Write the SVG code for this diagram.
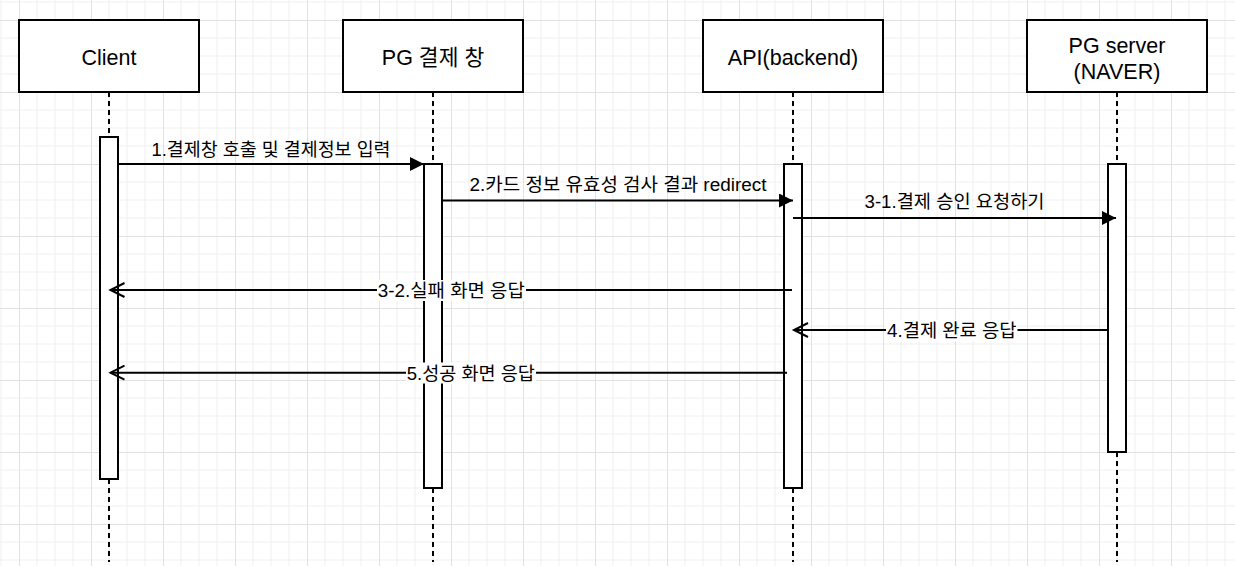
<svg xmlns="http://www.w3.org/2000/svg" width="1235" height="566" viewBox="0 0 1235 566">
<defs>
<pattern id="grid" patternUnits="userSpaceOnUse" x="19" y="20" width="72" height="72">
<path d="M18,0V72M36,0V72M54,0V72M0,18H72M0,36H72M0,54H72" stroke="#efefef" stroke-width="1" fill="none"/>
<path d="M0.5,0V72M0,0.5H72" stroke="#e2e2e2" stroke-width="1" fill="none"/>
</pattern>
<marker id="block" markerUnits="userSpaceOnUse" markerWidth="16" markerHeight="16" refX="14" refY="7" orient="auto">
<path d="M0,0 L14,7 L0,14 z" fill="#000"/>
</marker>
<marker id="open" markerUnits="userSpaceOnUse" markerWidth="18" markerHeight="18" refX="15" refY="8" orient="auto">
<path d="M1,1 L15,8 L1,15" fill="none" stroke="#000" stroke-width="2"/>
</marker>
<style>
.box{fill:#fff;stroke:#000;stroke-width:2}
.act{fill:#fff;stroke:#000;stroke-width:2}
.life{stroke:#000;stroke-width:2;stroke-dasharray:5 4;fill:none}
.msg{stroke:#000;stroke-width:2;fill:none}
.sync{marker-end:url(#block)}
.ret{marker-end:url(#open)}
text{font-family:"Liberation Sans","Noto Sans CJK KR",sans-serif;fill:#000;text-anchor:middle}
.title{font-size:21.5px}
.lbl{font-size:18px}
.bg{fill:#fff}
</style>
</defs>
<rect width="1235" height="566" fill="#fff"/>
<rect width="1235" height="566" fill="url(#grid)"/>

<g id="client">
<rect class="box" x="19" y="20" width="180" height="72"/>
<text class="title" x="109" y="64.5">Client</text>
<line class="life" x1="109" y1="92" x2="109" y2="562"/>
<rect class="act" x="100" y="137" width="18" height="342"/>
</g>

<g id="pg-window">
<rect class="box" x="343" y="20" width="180" height="72"/>
<text class="title" x="433" y="64.5">PG 결제 창</text>
<line class="life" x1="433" y1="92" x2="433" y2="562"/>
<rect class="act" x="424" y="164" width="18" height="324"/>
</g>

<g id="api-backend">
<rect class="box" x="703" y="20" width="180" height="72"/>
<text class="title" x="793" y="64.5">API(backend)</text>
<line class="life" x1="793" y1="92" x2="793" y2="562"/>
<rect class="act" x="784" y="164" width="18" height="324"/>
</g>

<g id="pg-server">
<rect class="box" x="1027" y="20" width="180" height="72"/>
<text class="title" x="1117" y="52.7">PG server</text>
<text class="title" x="1117" y="78.7">(NAVER)</text>
<line class="life" x1="1117" y1="92" x2="1117" y2="562"/>
<rect class="act" x="1108" y="164" width="18" height="288"/>
</g>

<g id="connectors">
<line class="msg sync" x1="118" y1="164" x2="424" y2="164"/>
<text class="lbl" x="271" y="155.5" textLength="239" lengthAdjust="spacingAndGlyphs">1.결제창 호출 및 결제정보 입력</text>

<line class="msg sync" x1="442" y1="200.5" x2="793" y2="200.5"/>
<text class="lbl" x="618" y="190.7" textLength="297" lengthAdjust="spacingAndGlyphs">2.카드 정보 유효성 검사 결과 redirect</text>

<line class="msg sync" x1="793" y1="218" x2="1116" y2="218"/>
<text class="lbl" x="954.5" y="208.3" textLength="180" lengthAdjust="spacingAndGlyphs">3-1.결제 승인 요청하기</text>

<line class="msg ret" x1="792" y1="290" x2="110.5" y2="290"/>
<rect class="bg" x="377" y="280" width="149" height="21"/>
<text class="lbl" x="451.3" y="297.3" textLength="147" lengthAdjust="spacingAndGlyphs">3-2.실패 화면 응답</text>

<line class="msg ret" x1="1109" y1="330" x2="794" y2="330"/>
<rect class="bg" x="886" y="320" width="131.5" height="21"/>
<text class="lbl" x="951.8" y="336.7" textLength="129.6" lengthAdjust="spacingAndGlyphs">4.결제 완료 응답</text>

<line class="msg ret" x1="787" y1="372.7" x2="110.5" y2="372.7"/>
<rect class="bg" x="406" y="362.5" width="130" height="21"/>
<text class="lbl" x="470.8" y="380" textLength="128.3" lengthAdjust="spacingAndGlyphs">5.성공 화면 응답</text>
</g>
</svg>
